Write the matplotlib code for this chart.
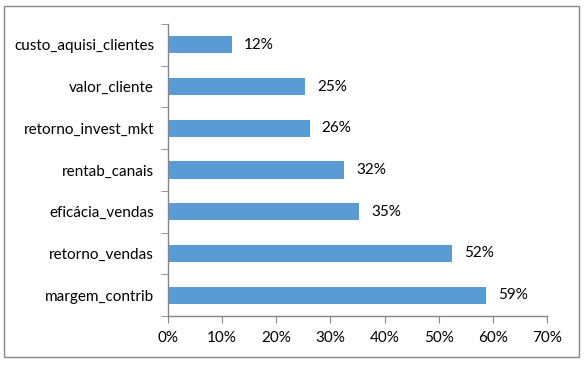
import numpy as np
import matplotlib.pyplot as plt
from matplotlib.patches import Rectangle
from matplotlib.ticker import FixedLocator, PercentFormatter

# dados (de cima para baixo)
categorias = ["custo_aquisi_clientes", "valor_cliente", "retorno_invest_mkt",
              "rentab_canais", "eficácia_vendas", "retorno_vendas", "margem_contrib"]
valores = [0.118, 0.253, 0.262, 0.325, 0.353, 0.525, 0.587]
rotulos = ["12%", "25%", "26%", "32%", "35%", "52%", "59%"]

plt.rcParams["font.family"] = ["Lato", "DejaVu Sans"]

fig = plt.figure(figsize=(5.85, 3.70), dpi=100)
ax = fig.add_axes([168 / 585, 1 - 316 / 370, 379 / 585, 292 / 370])

# borda do gráfico
fig.patches.append(Rectangle((4 / 585, 1 - 357 / 370), 575 / 585, 351 / 370,
                             transform=fig.transFigure, fill=False,
                             edgecolor="#888888", linewidth=1.0))

y = np.arange(len(categorias))
ax.barh(y, valores, height=0.41, color="#5B9BD5")
for yi, v, r in zip(y, valores, rotulos):
    ax.text(v + 0.022, yi, r, va="center", ha="left", fontsize=11, color="#000000")

ax.set_xlim(0, 0.70)
ax.set_ylim(len(categorias) - 0.5, -0.5)
ax.set_xticks(np.arange(0, 0.71, 0.10))
ax.xaxis.set_major_formatter(PercentFormatter(1.0, decimals=0))
ax.set_yticks(y)
ax.set_yticklabels(categorias)
ax.yaxis.set_minor_locator(FixedLocator(np.arange(-0.5, len(categorias), 1.0)))

for s in ["top", "right"]:
    ax.spines[s].set_visible(False)
for s in ["left", "bottom"]:
    ax.spines[s].set_color("#868686")
    ax.spines[s].set_linewidth(1.0)

ax.tick_params(axis="y", which="major", length=0, pad=10, labelsize=11)
ax.tick_params(axis="y", which="minor", length=5, color="#868686", direction="out")
ax.tick_params(axis="x", length=5, color="#868686", direction="out", pad=6, labelsize=11)

fig.savefig("out.png", dpi=100)
